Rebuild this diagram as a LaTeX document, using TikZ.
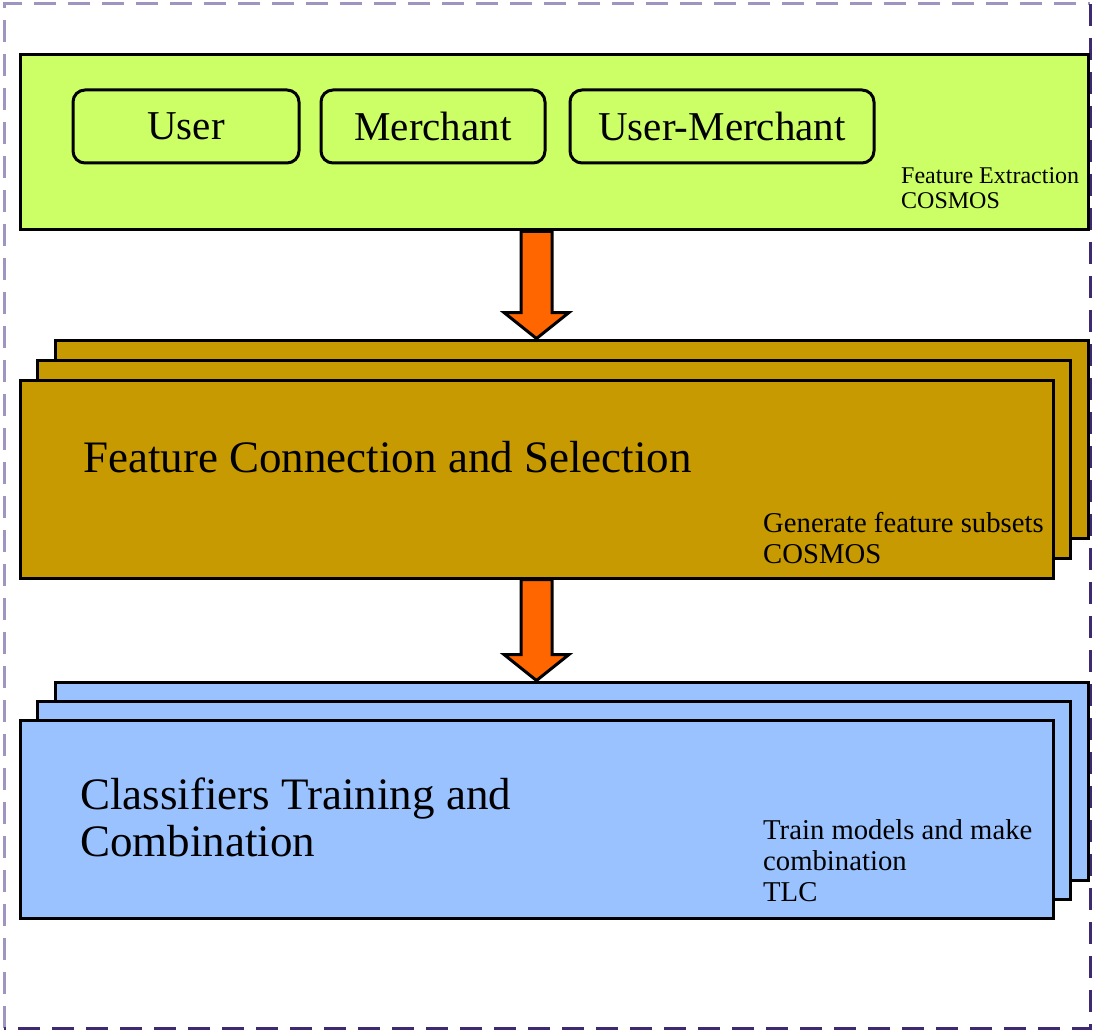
\documentclass[tikz,border=0pt]{standalone}
\usepackage{fontspec}
\setmainfont{Liberation Serif}
\usepackage{xcolor}
\usepackage{tikz}
\usetikzlibrary{positioning,calc}

\definecolor{limegreen}{RGB}{204,255,102}
\definecolor{selgold}{RGB}{198,154,0}
\definecolor{clsblue}{RGB}{153,194,255}
\definecolor{arroworange}{RGB}{255,102,0}
\definecolor{framelight}{RGB}{160,148,192}
\definecolor{framedark}{RGB}{62,42,112}

\begin{document}
\begin{tikzpicture}[
	x=1pt, y=-1pt,
	extbox/.style={draw=black, line width=3pt, fill=limegreen, minimum width=1068pt, minimum height=175pt},
	entity/.style={draw=black, line width=3pt, rounded corners=12pt, fill=limegreen, minimum height=73pt, font=\fontsize{41}{49}\selectfont},
	layer/.style={draw=black, line width=3pt, minimum width=1033pt, minimum height=198pt},
	sellayer/.style={layer, fill=selgold},
	clslayer/.style={layer, fill=clsblue},
	titletext/.style={anchor=west, align=left, inner sep=0pt, font=\fontsize{45}{47}\selectfont},
	notetext/.style={anchor=west, align=left, inner sep=0pt, font=\fontsize{28.7}{31}\selectfont},
	smallnote/.style={anchor=west, align=left, inner sep=0pt, font=\fontsize{24}{25}\selectfont},
	blockarrow/.style={draw=black, line width=3pt, fill=arroworange, line join=miter},
	frameline/.style={line width=3pt, dash pattern=on 22pt off 12pt}
	]
	\useasboundingbox (0,0) rectangle (1094,1032);
	
	% ===== OUTER FRAME =====
	\coordinate (fNW) at (4,4);
	\coordinate (fSE) at (1090,1028);
	\draw[frameline, framelight] (fNW |- fSE) -- (fNW) -- (fNW -| fSE);
	\draw[frameline, framedark] (fNW -| fSE) -- (fSE) -- (fNW |- fSE);
	
	% ===== FEATURE EXTRACTION =====
	\node[extbox] (ext) at (554,142.5) {};
	\node[entity, minimum width=226pt] (user)      at (186,126.5) {User};
	\node[entity, minimum width=224pt] (merch)     at (433,126.5) {Merchant};
	\node[entity, minimum width=304pt] (usermerch) at (722,126.5) {User-Merchant};
	\node[smallnote] (lblExt) at (901,188) {Feature Extraction\\COSMOS};
	
	% ===== FEATURE CONNECTION AND SELECTION =====
	\node[sellayer] (sel1) at (571.5,439) {};
	\node[sellayer] (sel2) at (554,459) {};
	\node[sellayer] (sel3) at (536.5,479) {};
	\node[titletext] (selTitle) at (83,457) {Feature Connection and Selection};
	\node[notetext] (lblSel) at (763,538) {Generate feature subsets\\COSMOS};
	
	% ===== CLASSIFIERS TRAINING AND COMBINATION =====
	\node[clslayer] (cls1) at (571.5,781) {};
	\node[clslayer] (cls2) at (554,800) {};
	\node[clslayer] (cls3) at (536.5,819) {};
	\node[titletext] (clsTitle) at (80,817) {Classifiers Training and\\Combination};
	\node[notetext] (lblCls) at (763,861) {Train models and make\\combination\\TLC};
	
	% ===== ARROWS =====
	\draw[blockarrow] (sel1.north -| sel3.north) -- ++(32.5,-26) -- ++(-17,0)
		|- ($(ext.south -| sel3.north)+(-15.5,0)$)
		-- ($(sel1.north -| sel3.north)+(-15.5,-26)$) -- ++(-17,0) -- cycle;
	\draw[blockarrow] (cls1.north -| cls3.north) -- ++(32.5,-26) -- ++(-17,0)
		|- ($(sel3.south -| cls3.north)+(-15.5,0)$)
		-- ($(cls1.north -| cls3.north)+(-15.5,-26)$) -- ++(-17,0) -- cycle;
\end{tikzpicture}
\end{document}
